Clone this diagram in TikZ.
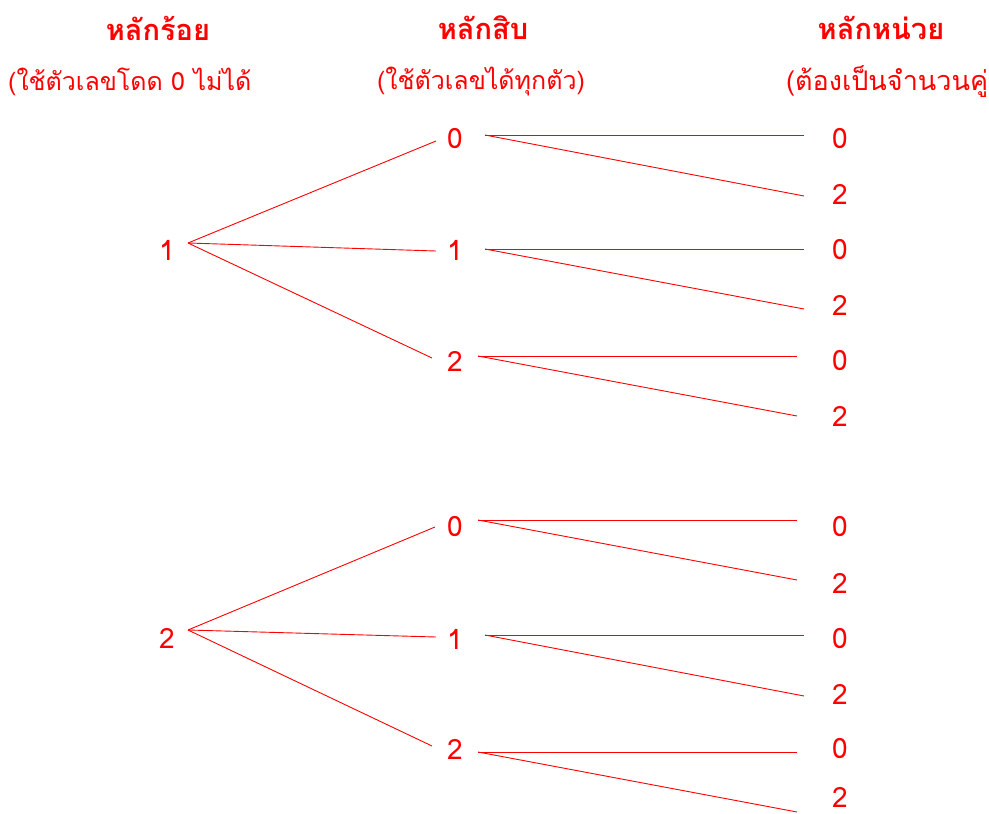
\documentclass[tikz,border=0pt]{standalone}
\usepackage{fontspec}
\setmainfont[Script=Thai]{Loma}
\definecolor{treered}{RGB}{255,0,0}
\begin{document}
\begin{tikzpicture}[x=1pt,y=-1pt,
  digit/.style={text=treered,inner sep=0pt,font=\fontsize{28}{32}\selectfont},
  head/.style={text=treered,inner sep=0pt,font=\fontsize{29}{33}\selectfont\bfseries},
  note/.style={text=treered,inner sep=0pt,font=\fontsize{25}{29}\selectfont},
  branch/.style={draw=treered,line width=0.9pt}]
\useasboundingbox (0,0) rectangle (989,814);

% column headings
\node[head] (hH) at (158,28) {หลักร้อย};
\node[note,anchor=west] (nH) at (8,82) {(ใช้ตัวเลขโดด 0 ไม่ได้};
\node[head] (hT) at (483,28) {หลักสิบ};
\node[note] (nT) at (481,82) {(ใช้ตัวเลขได้ทุกตัว)};
\node[head] (hU) at (881,28) {หลักหน่วย};
\node[note,anchor=west,font=\fontsize{27}{31}\selectfont] (nU) at (786,82) {(ต้องเป็นจำนวนคู่};

% first tree: hundreds digit 1
\node[digit] (a) at (167,250) {1};
\node[digit] (a0) at (455,139) {0};
\node[digit] (a1) at (455,250) {1};
\node[digit] (a2) at (455,361) {2};
\node[digit] (a00) at (840,139) {0};
\node[digit] (a02) at (840,194) {2};
\node[digit] (a10) at (840,250) {0};
\node[digit] (a12) at (840,305) {2};
\node[digit] (a20) at (840,361) {0};
\node[digit] (a22) at (840,416) {2};

\coordinate (aR) at (188,243);
\coordinate (a0L) at (436,141);
\coordinate (a1L) at (436,251);
\coordinate (a2L) at (432,358);
\coordinate (a0R) at (485,135);
\coordinate (a1R) at (485,249);
\coordinate (a2R) at (478,356);
\coordinate (a00L) at (804,135);
\coordinate (a02L) at (804,196);
\coordinate (a10L) at (804,249);
\coordinate (a12L) at (804,309);
\coordinate (a20L) at (797,356);
\coordinate (a22L) at (797,416);

\draw[branch] (aR) -- (a0L);
\draw[branch] (aR) -- (a1L);
\draw[branch] (aR) -- (a2L);
\draw[branch] (a0R) -- (a00L);
\draw[branch] (a0R) -- (a02L);
\draw[branch] (a1R) -- (a10L);
\draw[branch] (a1R) -- (a12L);
\draw[branch] (a2R) -- (a20L);
\draw[branch] (a2R) -- (a22L);

% second tree: hundreds digit 2
\node[digit] (b) at (167,638) {2};
\node[digit] (b0) at (455,527) {0};
\node[digit] (b1) at (455,639) {1};
\node[digit] (b2) at (455,749) {2};
\node[digit] (b00) at (840,527) {0};
\node[digit] (b02) at (840,583) {2};
\node[digit] (b10) at (840,639) {0};
\node[digit] (b12) at (840,694) {2};
\node[digit] (b20) at (840,749) {0};
\node[digit] (b22) at (840,797) {2};

\coordinate (bR) at (188,630);
\coordinate (b0L) at (435,527);
\coordinate (b1L) at (436,637);
\coordinate (b2L) at (432,746);
\coordinate (b0R) at (478,520);
\coordinate (b1R) at (485,635);
\coordinate (b2R) at (478,752);
\coordinate (b00L) at (797,520);
\coordinate (b02L) at (797,580);
\coordinate (b10L) at (804,635);
\coordinate (b12L) at (804,696);
\coordinate (b20L) at (797,752);
\coordinate (b22L) at (797,812);

\draw[branch] (bR) -- (b0L);
\draw[branch] (bR) -- (b1L);
\draw[branch] (bR) -- (b2L);
\draw[branch] (b0R) -- (b00L);
\draw[branch] (b0R) -- (b02L);
\draw[branch] (b1R) -- (b10L);
\draw[branch] (b1R) -- (b12L);
\draw[branch] (b2R) -- (b20L);
\draw[branch] (b2R) -- (b22L);
\end{tikzpicture}
\end{document}
